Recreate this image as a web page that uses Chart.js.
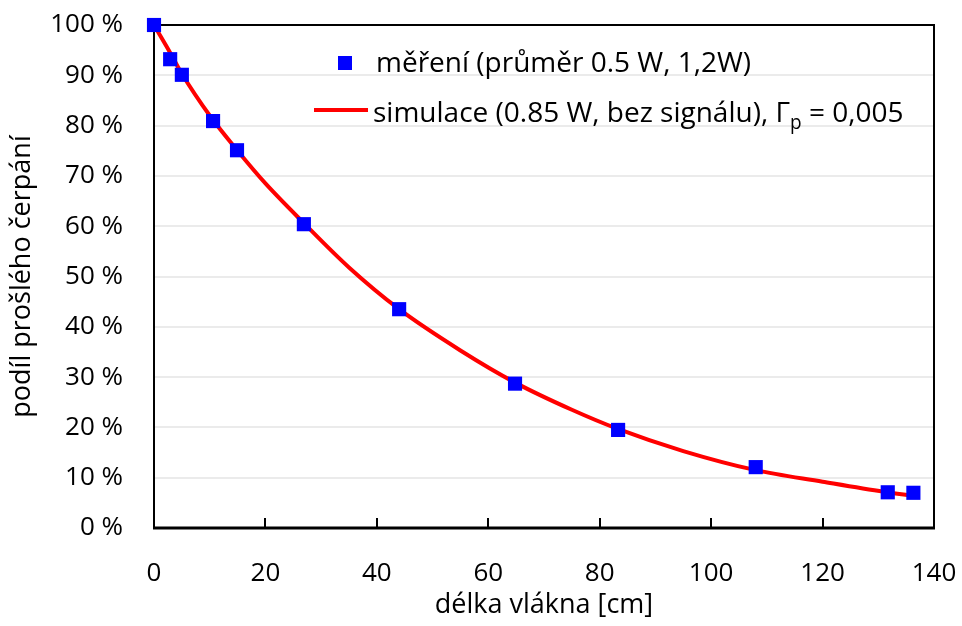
<!DOCTYPE html>
<html>
<head>
<meta charset="utf-8">
<script src="https://cdn.jsdelivr.net/npm/chart.js@4/dist/chart.umd.min.js"></script>
<style>
  body { margin: 0; background: #fff; }
  .wrap { position: relative; width: 962px; height: 626px; font-family: "Open Sans", sans-serif; }
  .legend-row { position: absolute; font-size: 28px; line-height: 34px; color: #000; white-space: nowrap; }
  .legend-mark { position: absolute; }
  .legend-row sub { font-size: 0.68em; line-height: 0; vertical-align: -0.35em; }
</style>
</head>
<body>
<div class="wrap">
  <canvas class="js-chart" width="962" height="626"></canvas>
  <div class="legend-mark" style="left:338px; top:56px; width:14px; height:14px; background:#0000ff;"></div>
  <div class="legend-row" style="left:376px; top:44px;">měření (průměr 0.5 W, 1,2W)</div>
  <div class="legend-mark" style="left:314px; top:108px; width:54px; height:4px; background:#ff0000;"></div>
  <div class="legend-row" style="left:373px; top:94px;">simulace (0.85 W, bez signálu), Γ<sub>p</sub> = 0,005</div>
</div>
<script>
// měření
const measLength = [0, 2.9, 5, 10.6, 14.9, 26.9, 44, 64.8, 83.3, 108, 131.7, 136.3];
const measShare = [100, 93.2, 90.1, 80.9, 75.1, 60.4, 43.5, 28.7, 19.5, 12.1, 7.1, 7.0];

// simulace
const simLength = [0, 3, 5, 10, 15, 20, 27, 35, 44, 55, 65, 75, 83, 95, 108, 120, 131, 136.3];
const simShare = [100, 94.3, 90.3, 82, 75, 68.5, 60.5, 51.8, 43.5, 35.3, 28.8, 23.5, 19.8, 15.3, 11.5, 9.2, 7.2, 6.4];

// osy
const xTicks = [0, 20, 40, 60, 80, 100, 120, 140];
const yTicks = [0, 10, 20, 30, 40, 50, 60, 70, 80, 90, 100];

const TICK_FONT = { family: '"Open Sans", sans-serif', size: 26 };
const TITLE_FONT = { family: '"Open Sans", sans-serif', size: 27 };

// rámeček grafu a ticky dovnitř
const frame = {
  id: 'frame',
  beforeDatasetsDraw(chart) {
    const { ctx, chartArea: a, scales: { x } } = chart;
    ctx.save();
    ctx.strokeStyle = '#000';
    ctx.lineWidth = 2;
    ctx.strokeRect(a.left, a.top, a.right - a.left, a.bottom - a.top);
    ctx.lineWidth = 3;
    ctx.beginPath();
    ctx.moveTo(a.left - 1, a.bottom);
    ctx.lineTo(a.right + 1, a.bottom);
    ctx.stroke();
    ctx.lineWidth = 2;
    xTicks.forEach(v => {
      const px = Math.round(x.getPixelForValue(v));
      ctx.beginPath();
      ctx.moveTo(px, a.bottom);
      ctx.lineTo(px, a.bottom - 10);
      ctx.stroke();
    });
    ctx.restore();
  }
};

const $chart = document.querySelector('.js-chart');
new Chart($chart, {
  type: 'scatter',
  data: {
    datasets: [
      {
        label: 'měření',
        data: measLength.map((x, i) => ({ x, y: measShare[i] })),
        pointStyle: 'rect',
        pointRadius: 10,
        backgroundColor: '#0000ff',
        borderColor: '#0000ff',
        borderWidth: 0,
        showLine: false,
        clip: false,
        order: 0
      },
      {
        label: 'simulace',
        data: simLength.map((x, i) => ({ x, y: simShare[i] })),
        showLine: true,
        cubicInterpolationMode: 'monotone',
        borderColor: '#ff0000',
        borderWidth: 4,
        pointRadius: 0,
        clip: false,
        order: 1
      }
    ]
  },
  options: {
    responsive: false,
    devicePixelRatio: 1,
    animation: false,
    layout: { padding: { top: 25, right: 28, left: 0, bottom: 0 } },
    plugins: {
      legend: { display: false },
      tooltip: { enabled: false }
    },
    scales: {
      x: {
        type: 'linear',
        min: 0,
        max: 140,
        // rozměry osy pevně, bez přesahu popisků
        afterFit: s => { s.height = 98; s.paddingLeft = 0; s.paddingRight = 0; },
        afterBuildTicks: s => { s.ticks = xTicks.map(v => ({ value: v })); },
        grid: { display: false },
        border: { display: false },
        ticks: { color: '#000', font: TICK_FONT, padding: 22, maxRotation: 0 },
        title: { display: true, text: 'délka vlákna [cm]', color: '#000', font: TITLE_FONT, padding: { top: 0, bottom: 4 } }
      },
      y: {
        min: 0,
        max: 100,
        afterFit: s => { s.width = 154; s.paddingTop = 0; s.paddingBottom = 0; },
        afterBuildTicks: s => { s.ticks = yTicks.map(v => ({ value: v })); },
        grid: { color: '#ebebeb', lineWidth: 2, drawTicks: false },
        border: { display: false },
        ticks: { color: '#000', font: TICK_FONT, padding: 31, callback: v => v + ' %' },
        title: { display: true, text: 'podíl prošlého čerpání', color: '#000', font: TITLE_FONT, padding: { top: 6, bottom: 0 } }
      }
    }
  },
  plugins: [frame]
});
</script>
</body>
</html>
